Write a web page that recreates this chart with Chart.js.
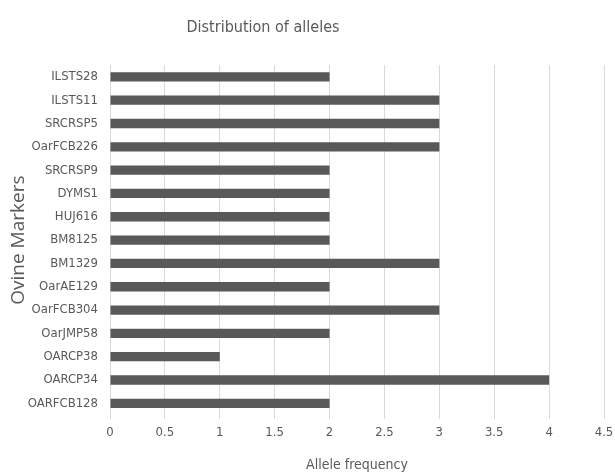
<!DOCTYPE html>
<html lang="en">
<head>
  <meta charset="UTF-8" />
  <title>Distribution of alleles</title>
  <script src="https://cdn.jsdelivr.net/npm/chart.js@4.4.1/dist/chart.umd.min.js"></script>
  <style>
    body { margin: 0; background: #fff; }
    #wrap { width: 615px; height: 476px; }
  </style>
</head>
<body>
  <div id="wrap"><canvas id="alleles"></canvas></div>
  <script>
    const markers = [
      "ILSTS28", "ILSTS11", "SRCRSP5", "OarFCB226", "SRCRSP9", "DYMS1", "HUJ616",
      "BM8125", "BM1329", "OarAE129", "OarFCB304", "OarJMP58", "OARCP38", "OARCP34", "OARFCB128",
    ];
    const frequency = [2, 3, 3, 3, 2, 2, 2, 2, 3, 2, 3, 2, 1, 4, 2];

    const textFont = "'Liberation Sans Narrow', 'DejaVu Sans Condensed', sans-serif";
    const grey = "#595959";

    // the title in the original sits left of the canvas centre
    const shiftTitle = {
      id: "shiftTitle",
      afterLayout(chart) {
        const t = chart.titleBlock;
        if (t) { t.left = 0; t.right = 526; }
      },
    };

    new Chart(document.getElementById("alleles").getContext("2d"), {
      type: "bar",
      data: {
        labels: markers,
        datasets: [{
          data: frequency,
          backgroundColor: grey,
          categoryPercentage: 0.4,
          barPercentage: 1,
        }],
      },
      options: {
        indexAxis: "y",
        responsive: true,
        maintainAspectRatio: false,
        animation: false,
        layout: { padding: { left: 0, right: 11, top: 0, bottom: 0 } },
        plugins: {
          legend: { display: false },
          tooltip: { enabled: false },
          title: {
            display: true,
            text: "Distribution of alleles",
            color: grey,
            font: { family: textFont, size: 16, weight: "normal" },
            padding: { top: 18, bottom: 28 },
          },
        },
        scales: {
          x: {
            min: 0,
            max: 4.5,
            ticks: {
              stepSize: 0.5,
              color: grey,
              padding: 6,
              font: { family: textFont, size: 13 },
              callback: (v) => String(v),
            },
            grid: { color: "#d9d9d9", tickLength: 4 },
            border: { display: false },
            title: {
              display: true,
              text: "Allele frequency",
              color: grey,
              font: { family: textFont, size: 14 },
              padding: { top: 0, bottom: 2 },
            },
            afterFit: (scale) => {
              scale.height = 61;
              scale.paddingRight = 0;
            },
          },
          y: {
            ticks: { color: grey, padding: 12, font: { family: textFont, size: 13 } },
            grid: { display: false, drawTicks: false },
            border: { display: true, color: "#d9d9d9" },
            title: {
              display: true,
              text: "Ovine Markers",
              color: grey,
              font: { family: "'Open Sans', sans-serif", size: 19 },
              padding: { top: 7, bottom: 0 },
            },
            afterFit: (scale) => { scale.width = 110; },
          },
        },
      },
      plugins: [shiftTitle],
    });
  </script>
</body>
</html>
